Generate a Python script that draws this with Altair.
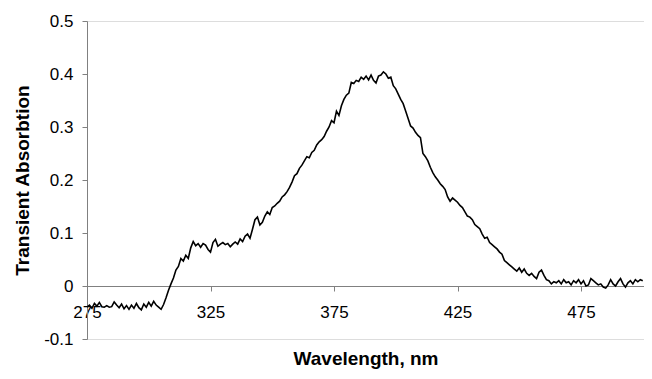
import altair as alt
import pandas as pd

wavelength = list(range(275, 501))
absorbance = [
    -0.040, -0.036, -0.042, -0.033, -0.038, -0.031, -0.039, -0.040, -0.037, -0.040,
    -0.039, -0.030, -0.036, -0.041, -0.034, -0.043, -0.037, -0.044, -0.036, -0.042,
    -0.033, -0.041, -0.045, -0.034, -0.040, -0.031, -0.038, -0.029, -0.036, -0.040,
    -0.044, -0.035, -0.022, -0.008, 0.004, 0.015, 0.030, 0.037, 0.052, 0.047,
    0.058, 0.052, 0.072, 0.084, 0.076, 0.080, 0.073, 0.080, 0.077, 0.069,
    0.064, 0.082, 0.088, 0.075, 0.079, 0.082, 0.078, 0.080, 0.074, 0.079,
    0.083, 0.079, 0.089, 0.084, 0.094, 0.098, 0.090, 0.107, 0.125, 0.130,
    0.115, 0.120, 0.132, 0.140, 0.135, 0.148, 0.151, 0.156, 0.160, 0.168,
    0.172, 0.178, 0.186, 0.196, 0.208, 0.212, 0.222, 0.228, 0.236, 0.244,
    0.242, 0.252, 0.256, 0.266, 0.272, 0.276, 0.282, 0.292, 0.300, 0.312,
    0.308, 0.330, 0.322, 0.340, 0.352, 0.360, 0.364, 0.384, 0.382, 0.388,
    0.386, 0.394, 0.390, 0.396, 0.389, 0.398, 0.388, 0.383, 0.396, 0.398,
    0.404, 0.400, 0.392, 0.394, 0.378, 0.372, 0.362, 0.352, 0.344, 0.330,
    0.316, 0.302, 0.298, 0.290, 0.284, 0.280, 0.250, 0.244, 0.236, 0.224,
    0.214, 0.206, 0.200, 0.193, 0.188, 0.182, 0.168, 0.160, 0.166, 0.162,
    0.158, 0.152, 0.148, 0.140, 0.132, 0.130, 0.125, 0.116, 0.112, 0.108,
    0.098, 0.090, 0.092, 0.082, 0.078, 0.074, 0.070, 0.064, 0.060, 0.048,
    0.044, 0.040, 0.036, 0.032, 0.028, 0.034, 0.026, 0.032, 0.024, 0.020,
    0.024, 0.018, 0.014, 0.026, 0.030, 0.020, 0.012, 0.010, 0.004, 0.008,
    0.006, 0.010, 0.004, 0.012, 0.006, 0.008, 0.002, 0.010, 0.006, 0.012,
    0.004, 0.010, 0.000, 0.002, 0.014, 0.010, 0.006, 0.002, 0.004, -0.002,
    -0.004, 0.002, 0.012, 0.004, 0.000, 0.008, 0.014, 0.004, -0.002, 0.006,
    0.010, 0.004, 0.012, 0.008, 0.012, 0.010,
]

x_ticks = [275, 325, 375, 425, 475]
y_ticks = [-0.1, 0, 0.1, 0.2, 0.3, 0.4, 0.5]

df = pd.DataFrame({"wavelength": wavelength, "absorbance": absorbance})

W = 557
H = 318
FONT = "Liberation Sans"

x_axis = alt.Axis(
    values=x_ticks,
    title="Wavelength, nm",
    offset=-H / 6,
    grid=False,
    domainColor="#808080",
    tickColor="#808080",
    tickSize=5,
    labelFlush=False,
    labelPadding=13,
    labelFont=FONT,
    labelFontSize=17,
    labelColor="black",
    titleFont=FONT,
    titleFontSize=19,
    titleFontWeight="bold",
    titleColor="black",
    titlePadding=29,
)

y_axis = alt.Axis(
    values=y_ticks,
    title="Transient Absorbtion",
    grid=False,
    domainColor="#808080",
    tickColor="#808080",
    tickSize=5,
    labelPadding=9,
    labelFont=FONT,
    labelFontSize=17,
    labelColor="black",
    labelExpr="abs(datum.value) < 1e-9 ? '0' : (datum.value < 0 ? '-' : '') + format(abs(datum.value), '.1f')",
    titleFont=FONT,
    titleFontSize=19,
    titleFontWeight="bold",
    titleColor="black",
    titlePadding=11,
)

chart = (
    alt.Chart(df)
    .mark_line(color="black", strokeWidth=1.6)
    .encode(
        x=alt.X("wavelength:Q", scale=alt.Scale(domain=[275, 500.5], nice=False, zero=False), axis=x_axis),
        y=alt.Y("absorbance:Q", scale=alt.Scale(domain=[-0.1, 0.5], nice=False), axis=y_axis),
    )
    .properties(
        width=W,
        height=H,
        autosize=alt.AutoSizeParams(type="none"),
        padding={"left": 79, "top": 13, "right": 0, "bottom": 32},
    )
    .configure_view(stroke=None)
    .configure(background="white")
)

chart.save("out.html", embed_options={"renderer": "svg", "actions": False})
